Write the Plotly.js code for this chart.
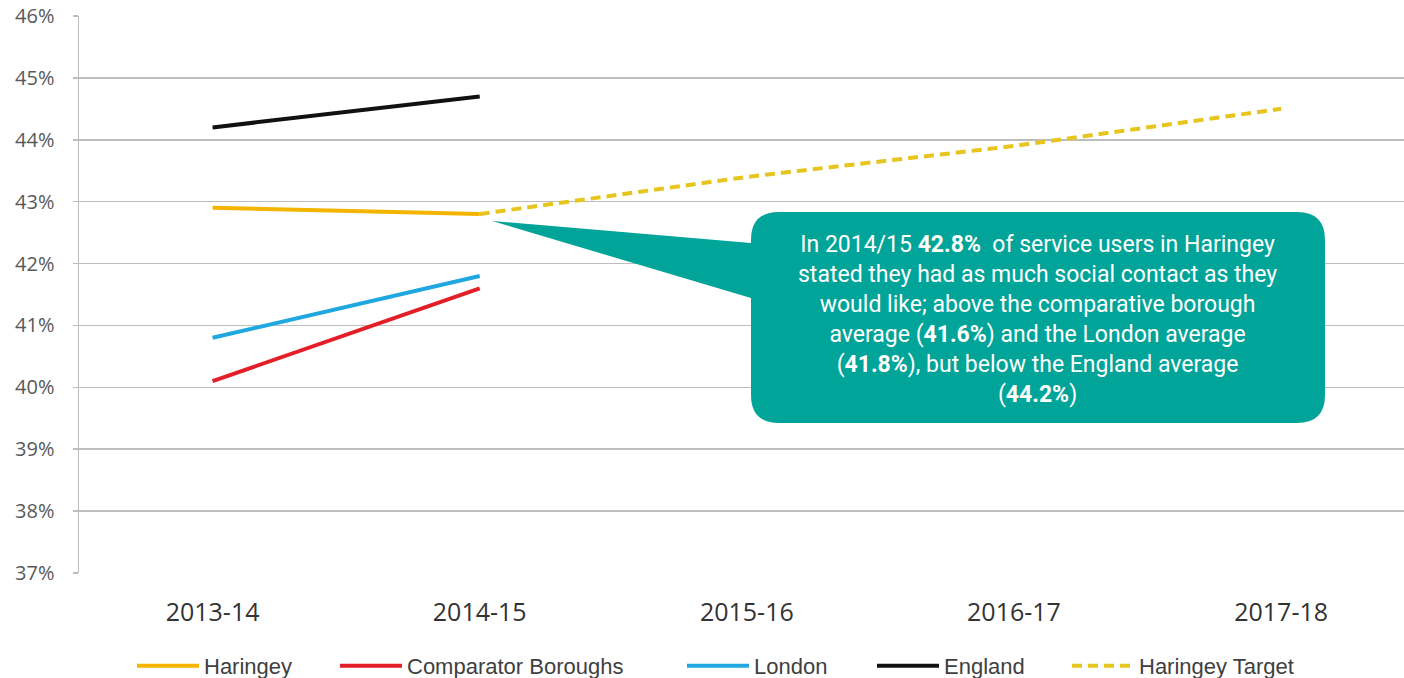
<!DOCTYPE html>
<html>
<head>
<meta charset="utf-8">
<script src="https://cdn.plot.ly/plotly-3.0.1.min.js"></script>
<style>html,body{margin:0;padding:0;background:#fff;}#chart{width:1404px;height:678px;}</style>
</head>
<body>
<div id="chart"></div>
<script>
const years = ["2013-14", "2014-15", "2015-16", "2016-17", "2017-18"];
const haringey = [42.9, 42.8, null, null, null];
const comparator = [40.1, 41.6, null, null, null];
const london = [40.8, 41.8, null, null, null];
const england = [44.2, 44.7, null, null, null];
const target = [null, 42.8, 43.4, 43.9, 44.5];
const yTickVals = [37, 38, 39, 40, 41, 42, 43, 44, 45, 46];
const yTickText = ["37%", "38%", "39%", "40%", "41%", "42%", "43%", "44%", "45%", "46%"];
const calloutText = "In 2014/15 <b>42.8%</b>  of service users in Haringey<br>stated they had as much social contact as they<br>would like; above the comparative borough<br>average (<b>41.6%</b>) and the London average<br>(<b>41.8%</b>), but below the England average<br>(<b>44.2%</b>)";

const W = 1404, H = 678, L = 79, R = 0, T = 16, B = 105;
const PW = W - L - R, PH = H - T - B;
const px = x => ((x - L) / PW).toFixed(5);
const py = y => ((H - B - y) / PH).toFixed(5);
function P(x, y) { return px(x) + "," + py(y); }

const bx0 = 751, bx1 = 1325, by0 = 212, by1 = 423, r = 28;
const calloutPath =
  "M" + P(bx0 + r, by0) +
  " L" + P(bx1 - r, by0) +
  " Q" + P(bx1, by0) + " " + P(bx1, by0 + r) +
  " L" + P(bx1, by1 - r) +
  " Q" + P(bx1, by1) + " " + P(bx1 - r, by1) +
  " L" + P(bx0 + r, by1) +
  " Q" + P(bx0, by1) + " " + P(bx0, by1 - r) +
  " L" + P(bx0, 298) +
  " L" + P(492, 221) +
  " L" + P(bx0, 243) +
  " L" + P(bx0, by0 + r) +
  " Q" + P(bx0, by0) + " " + P(bx0 + r, by0) + " Z";

const lw = 4;
const traces = [
  {x: years, y: haringey, name: "Haringey", legend: "legend", mode: "lines", line: {color: "#F4B400", width: lw}},
  {x: years, y: comparator, name: "Comparator Boroughs", legend: "legend2", mode: "lines", line: {color: "#E41E26", width: lw}},
  {x: years, y: london, name: "London", legend: "legend3", mode: "lines", line: {color: "#1EA8DF", width: lw}},
  {x: years, y: england, name: "England", legend: "legend4", mode: "lines", line: {color: "#111111", width: lw}},
  {x: years, y: target, name: "Haringey Target", legend: "legend5", mode: "lines", line: {color: "#E6C51E", width: lw, dash: "10px,6px"}}
];

const legendStarts = [140, 343, 690, 880, 1075];
function legendAt(startPx) {
  return {
    orientation: "h", xref: "container", yref: "container",
    x: (startPx - 8) / W, xanchor: "left", y: (H - 666) / H, yanchor: "middle",
    font: {family: "Liberation Sans, Arial, sans-serif", size: 22, color: "#404040"},
    itemwidth: 62, bgcolor: "rgba(0,0,0,0)"
  };
}

const layout = {
  width: W, height: H,
  margin: {l: L, r: R, t: T, b: B, autoexpand: false},
  paper_bgcolor: "#ffffff", plot_bgcolor: "#ffffff",
  showlegend: true,
  legend: legendAt(legendStarts[0]),
  legend2: legendAt(legendStarts[1]),
  legend3: legendAt(legendStarts[2]),
  legend4: legendAt(legendStarts[3]),
  legend5: legendAt(legendStarts[4]),
  xaxis: {
    type: "category", range: [-0.5, 4.46], fixedrange: true,
    showgrid: false, zeroline: false,
    showline: false, ticks: "",
    ticklabelstandoff: 22,
    tickfont: {family: "Open Sans, sans-serif", size: 25, color: "#333333"}
  },
  yaxis: {
    range: [37, 46], fixedrange: true,
    tickvals: yTickVals, ticktext: yTickText,
    showgrid: true, gridcolor: "#BDBDBD", gridwidth: 1.5,
    zeroline: false,
    showline: true, linecolor: "#BDBDBD", linewidth: 1.5,
    ticks: "outside", ticklen: 5, tickcolor: "#BDBDBD", tickwidth: 1.5,
    ticklabelstandoff: 14,
    tickfont: {family: "Open Sans, sans-serif", size: 20, color: "#595959"}
  },
  shapes: [
    {type: "path", xref: "paper", yref: "paper", path: calloutPath,
     fillcolor: "#00A499", line: {width: 0}, layer: "above"}
  ],
  annotations: [
    {xref: "paper", yref: "paper", x: px(1038), y: py(319), xanchor: "center", yanchor: "middle",
     text: calloutText, showarrow: false, align: "center",
     font: {family: "Roboto, sans-serif", size: 23, color: "#ffffff"}}
  ]
};

Plotly.newPlot("chart", traces, layout, {displayModeBar: false, staticPlot: true});
</script>
</body>
</html>
